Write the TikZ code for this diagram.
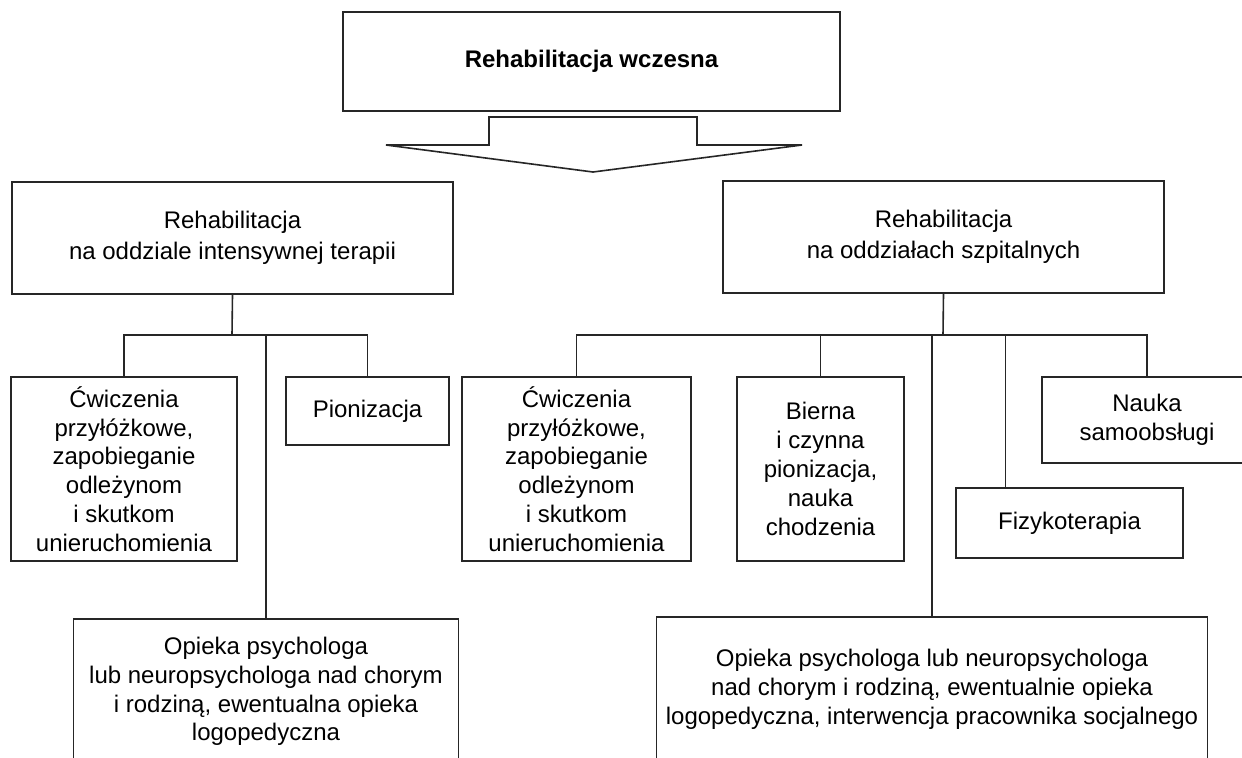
\documentclass[tikz,border=0pt]{standalone}
\usepackage{fontspec}
\setmainfont{Liberation Sans}
\usetikzlibrary{calc}

\begin{document}
\begin{tikzpicture}[x=0.5pt,y=-0.5pt,line join=miter,
  box/.style={draw=black!85,line width=0.8pt,fill=white,align=center,inner sep=0pt,
    font=\fontsize{12}{14.4}\selectfont},
  headbox/.style={box,minimum width=220.5pt,minimum height=56pt,
    font=\fontsize{12}{15.5}\selectfont},
  link/.style={draw=black!85,line width=0.8pt}]
 \useasboundingbox (0,0) rectangle (1242,757);
 \node[box,minimum width=248.5pt,minimum height=49.5pt,
   font=\fontsize{12}{14.4}\selectfont\bfseries] (title) at (591.5,61.5) {Rehabilitacja wczesna};
 \draw[link,fill=white] (489,117)--(697,117)--(697,145)--(802,145)--(593,172)
   --(386,145)--(489,145)--cycle;
 \node[headbox] (icu) at (232.5,238) {Rehabilitacja\\na oddziale intensywnej terapii};
 \node[headbox] (ward) at (943.5,237) {Rehabilitacja\\na oddziałach szpitalnych};
 \coordinate (icuBus) at (232,335);
 \coordinate (wardBus) at (943,335);
 \node[box,minimum width=113pt,minimum height=92pt] (icuEx) at (124,469)
   {Ćwiczenia\\przyłóżkowe,\\zapobieganie\\odleżynom\\i skutkom\\unieruchomienia};
 \node[box,minimum width=81.5pt,minimum height=34pt] (icuPion) at (367.5,411) {Pionizacja};
 \node[box,minimum width=192.5pt,minimum height=72.5pt] (icuPsych) at (266,691.5)
   {Opieka psychologa\\lub neuropsychologa nad chorym\\i rodziną, ewentualna opieka\\logopedyczna};
 \node[box,minimum width=114.5pt,minimum height=92pt] (wardEx) at (576.5,469)
   {Ćwiczenia\\przyłóżkowe,\\zapobieganie\\odleżynom\\i skutkom\\unieruchomienia};
 \node[box,minimum width=83.5pt,minimum height=92pt] (wardBierna) at (820.5,469)
   {Bierna\\i czynna\\pionizacja,\\nauka\\chodzenia};
 \node[box,minimum width=113.5pt,minimum height=35pt] (wardFizyko) at (1069.5,523) {Fizykoterapia};
 \node[box,minimum width=105pt,minimum height=43pt] (wardNauka) at (1147,420) {Nauka\\samoobsługi};
 \node[box,minimum width=275.5pt,minimum height=72.5pt] (wardPsych) at (932,689.5)
   {Opieka psychologa lub neuropsychologa\\nad chorym i rodziną, ewentualnie opieka\\logopedyczna, interwencja pracownika socjalnego};
 \draw[link] (icu.south)--(icuBus);
 \draw[link] (icuEx.north) |- (icuBus) -| (icuPion.north);
 \draw[link] (icuPsych.north) -- (icuPsych.north |- icuBus);
 \draw[link] (ward.south)--(wardBus);
 \draw[link] (wardEx.north) |- (wardBus) -| (wardNauka.north);
 \draw[link] (wardBierna.north) -- (wardBierna.north |- wardBus);
 \draw[link] (wardPsych.north) -- (wardPsych.north |- wardBus);
 \draw[link] ([xshift=-32pt]wardFizyko.north) -- ([xshift=-32pt]wardFizyko.north |- wardBus);
\end{tikzpicture}
\end{document}
